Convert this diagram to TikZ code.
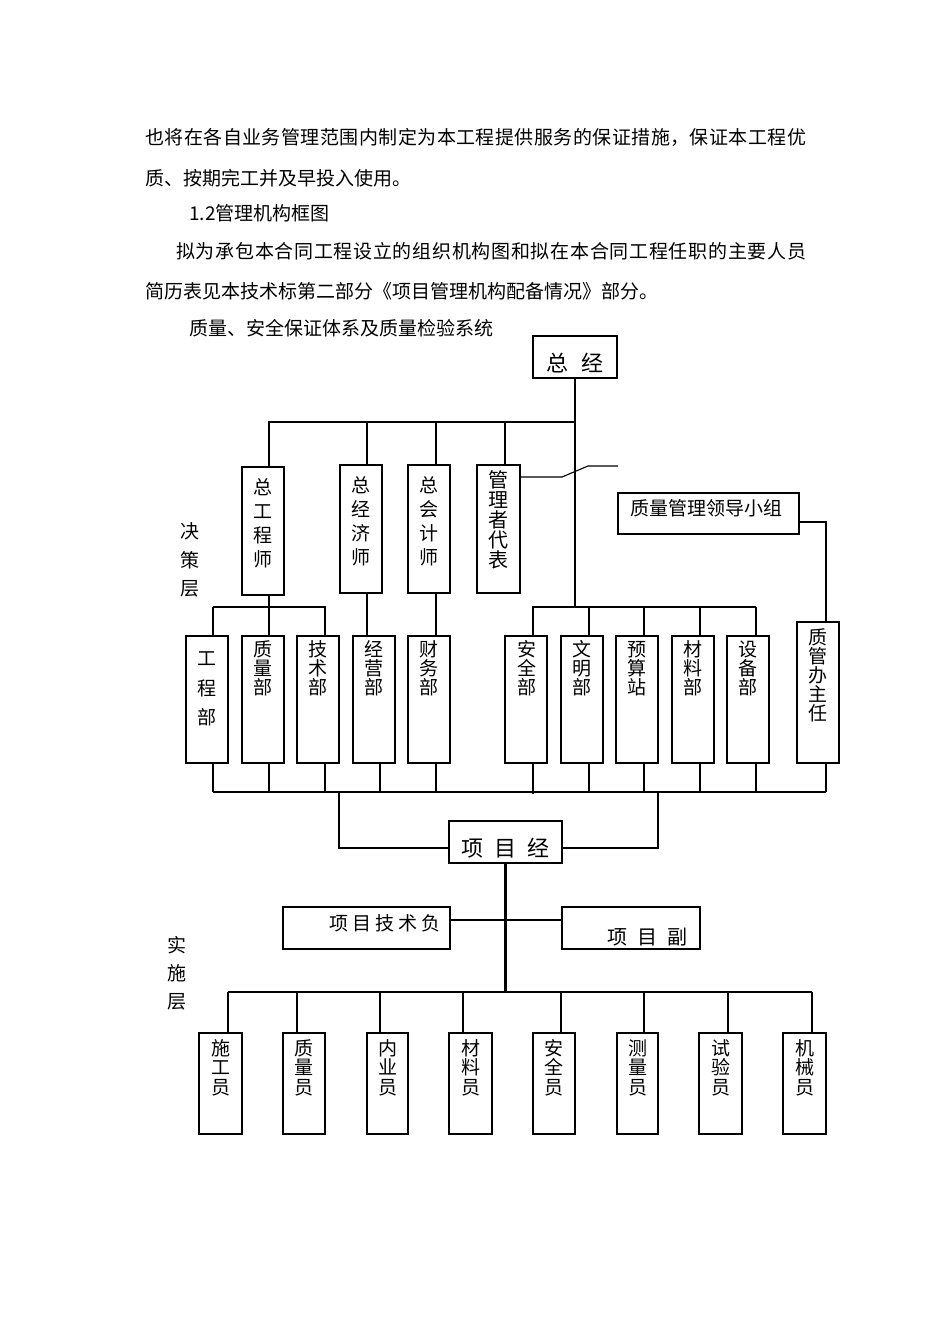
\documentclass[tikz,border=0pt]{standalone}
\usepackage{fontspec}
\setmainfont{Noto Sans CJK SC}
\begin{document}
\begin{tikzpicture}[x=1pt,y=-1pt,
  bx/.style={draw, line width=1.1pt, inner sep=0pt, outer sep=0pt, anchor=north west},
  ln/.style={line width=1.1pt},
  tk/.style={line width=2.3pt},
  tx/.style={inner sep=0pt, font=\fontsize{#1}{#1}\selectfont},
  vt/.style 2 args={inner sep=0pt, align=center, font=\fontsize{#1}{#2}\selectfont},
]
\fill[white] (0,0) rectangle (950,1344);
\useasboundingbox (0,0) rectangle (950,1344);

% ---------- paragraph text ----------
\node[tx=19, anchor=west] (p1) at (145,137) {\spaceskip=0pt plus 1fil\makebox[661pt][s]{也 将 在 各 自 业 务 管 理 范 围 内 制 定 为 本 工 程 提 供 服 务 的 保 证 措 施 ， 保 证 本 工 程 优}};
\node[tx=19, anchor=west] (p2) at (145,178) {质、按期完工并及早投入使用。};
\node[tx=19, anchor=west] (p3) at (189,213) {1.2管理机构框图};
\node[tx=19, anchor=west] (p4) at (176,251) {\spaceskip=0pt plus 1fil\makebox[630pt][s]{拟 为 承 包 本 合 同 工 程 设 立 的 组 织 机 构 图 和 拟 在 本 合 同 工 程 任 职 的 主 要 人 员}};
\node[tx=19, anchor=west] (p5) at (145,291) {简历表见本技术标第二部分《项目管理机构配备情况》部分。};
\node[tx=19, anchor=west] (p6) at (189,328) {质量、安全保证体系及质量检验系统};

% ---------- layer labels ----------
\node[vt={19}{28.5}] (lab1) at (190,560) {决\\策\\层};
\node[vt={19}{28}] (lab2) at (177,973) {实\\施\\层};

% ---------- top box ----------
\node[bx, minimum width=84pt, minimum height=42pt] (zj) at (533,336) {};
\node[tx=22] (zjt) at (575,363) {总\hspace{14pt}经};

% ---------- row 1 ----------
\node[bx, minimum width=42pt, minimum height=128pt] (zgcs) at (242,467) {};
\node[bx, minimum width=42pt, minimum height=128pt] (zjjs) at (340,465) {};
\node[bx, minimum width=42pt, minimum height=128pt] (zkjs) at (408,465) {};
\node[bx, minimum width=43pt, minimum height=128pt] (glzdb) at (477,465) {};
\node[vt={19}{24}] (t-zgcs) at (263,523) {总\\工\\程\\师};
\node[vt={19}{24}] (t-zjjs) at (361,521) {总\\经\\济\\师};
\node[vt={19}{24}] (t-zkjs) at (429,521) {总\\会\\计\\师};
\node[vt={20}{20}] (t-glzdb) at (498.5,520) {管\\理\\者\\代\\表};
\draw[tk] (glzdb.north west) -- (glzdb.south west);

\node[bx, minimum width=181pt, minimum height=41pt] (zlgl) at (618,493) {};
\node[tx=19] (t-zlgl) at (706,508) {质量管理领导小组};

% ---------- row 2 ----------
\foreach \n/\x in {gcb/186,zlb/242,jsb/297,jyb/353,cwb/408,aqb/505,wmb/561,ysz/616,clb/672,sbb/727}
  \node[bx, minimum width=42pt, minimum height=127pt] (\n) at (\x,636) {};
\node[bx, minimum width=42pt, minimum height=141pt] (zgbzr) at (797,622) {};
\draw[tk] (gcb.north east) -- (gcb.south east);
\draw[tk] (aqb.north west) -- (aqb.south west);
\draw[tk] (sbb.north east) -- (sbb.south east);

\node[vt={19}{29.5}] (t-gcb) at (207,689) {工\\程\\部};
\node[vt={19}{19}] (t-zlb) at (263,668.5) {质\\量\\部};
\node[vt={19}{19}] (t-jsb) at (318,668.5) {技\\术\\部};
\node[vt={19}{19}] (t-jyb) at (374,668.5) {经\\营\\部};
\node[vt={19}{19}] (t-cwb) at (429,668.5) {财\\务\\部};
\node[vt={19}{19}] (t-aqb) at (527,668.5) {安\\全\\部};
\node[vt={19}{19}] (t-wmb) at (582,668.5) {文\\明\\部};
\node[vt={19}{19}] (t-ysz) at (637,668.5) {预\\算\\站};
\node[vt={19}{19}] (t-clb) at (693,668.5) {材\\料\\部};
\node[vt={19}{19}] (t-sbb) at (748,668.5) {设\\备\\部};
\node[vt={19}{19}] (t-zgbzr) at (818,675) {质\\管\\办\\主\\任};

% ---------- project manager & deputies ----------
\node[bx, minimum width=113pt, minimum height=42pt] (xmj) at (449,821) {};
\node[tx=22] (t-xmj) at (505.5,848) {项\hspace{11pt}目\hspace{11pt}经};
\node[bx, minimum width=167pt, minimum height=42pt] (xmjs) at (283,907) {};
\node[tx=19] (t-xmjs) at (385,923) {项\kern4pt 目\kern4pt 技\kern4pt 术\kern4pt 负};
\node[bx, minimum width=138pt, minimum height=42pt] (xmf) at (562,907) {};
\node[tx=20] (t-xmf) at (647,937) {项\hspace{10pt}目\hspace{10pt}副};

% ---------- row 3 ----------
\foreach \n/\x/\w/\lab in {sgy/199/43/施\\工\\员, zly/283/42/质\\量\\员, nyy/367/41/内\\业\\员, cly/449/43/材\\料\\员, aqy/533/42/安\\全\\员, cly2/617/41/测\\量\\员, syy/699/43/试\\验\\员, jxy/783/43/机\\械\\员}{
  \node[bx, minimum width=\w pt, minimum height=101pt] (\n) at (\x,1033) {};
  \node[vt={19}{19.5}] (t-\n) at (\n.center |- 0,1067.5) {\lab};
}
\draw[tk] (sgy.north west) -- (sgy.south west);
\draw[tk] (jxy.north west) -- (jxy.south west);

% ---------- helper levels ----------
\coordinate (y1) at (0,422);
\coordinate (y2) at (0,607);
\coordinate (y3) at (0,792);
\coordinate (y5) at (0,992);

% ---------- connectors: top ----------
\draw[ln] (zj.south) -- (zj.south |- y2);
\draw[tk] ([xshift=6pt]zgcs.north) |- (zj.south |- y1);
\draw[ln] ([xshift=6pt]zjjs.north) -- ([xshift=6pt]zjjs.north |- y1);
\draw[ln] ([xshift=7pt]zkjs.north) -- ([xshift=7pt]zkjs.north |- y1);
\draw[tk] ([xshift=6.5pt]glzdb.north) -- ([xshift=6.5pt]glzdb.north |- y1);

% broken cross-over line from 管理者代表
\coordinate (sw1) at (562,477);
\coordinate (sw2) at (588,466);
\coordinate (sw3) at (618,466);
\draw[ln] (glzdb.east |- sw1) -- (sw1) -- (sw2) -- (sw3);

% 质量管理领导小组 -> 质管办主任
\coordinate (q1) at (826,522);
\draw[ln] (zlgl.east |- q1) -| ([xshift=8pt]zgbzr.north);

% ---------- connectors: row 2 top ----------
\draw[tk] ([xshift=6pt]gcb.north) -- ([xshift=6pt]gcb.north |- y2);
\draw[ln] ([xshift=6pt]gcb.north |- y2) -- ([xshift=7pt]jsb.north |- y2) -- ([xshift=7pt]jsb.north);
\draw[ln] ([xshift=6pt]zgcs.south) -- ([xshift=6pt]zlb.north);
\draw[ln] ([xshift=6pt]zjjs.south) -- ([xshift=6pt]zjjs.south |- jyb.north);
\draw[ln] ([xshift=7pt]zkjs.south) -- ([xshift=7pt]zkjs.south |- cwb.north);

\draw[ln] ([xshift=7pt]aqb.north) -- ([xshift=7pt]aqb.north |- y2) -- ([xshift=8pt]sbb.north |- y2);
\foreach \n in {wmb,ysz,clb}
  \draw[ln] ([xshift=7pt]\n.north) -- ([xshift=7pt]\n.north |- y2);
\draw[tk] ([xshift=8pt]sbb.north) -- ([xshift=8pt]sbb.north |- y2);

% ---------- connectors: row 2 bottom ----------
\draw[ln] ([xshift=6pt]gcb.south |- y3) -- ([xshift=8pt]zgbzr.south |- y3);
\draw[tk] ([xshift=6pt]gcb.south) -- ([xshift=6pt]gcb.south |- y3);
\foreach \n/\s in {zlb/6,jsb/7,jyb/6,cwb/7,wmb/7,ysz/7,clb/7,zgbzr/8}
  \draw[ln] ([xshift=\s pt]\n.south) -- ([xshift=\s pt]\n.south |- y3);
\draw[ln] ([xshift=7pt]aqb.south) -- ([xshift=7pt,yshift=-2pt]aqb.south |- y3);
\draw[tk] ([xshift=8pt]sbb.south) -- ([xshift=8pt]sbb.south |- y3);

% ---------- connectors: to 项目经 ----------
\coordinate (pl) at (339,792);
\coordinate (pr) at (658,792);
\draw[ln] (pl) |- ([yshift=-6pt]xmj.west);
\draw[ln] (pr) |- ([yshift=-6pt]xmj.east);
\draw[tk] (xmj.south) -- (xmj.south |- y5);
\draw[ln] ([yshift=8pt]xmjs.east) -- ([yshift=8pt]xmf.west);

% ---------- connectors: row 3 ----------
\draw[ln] ([xshift=7.5pt]sgy.north |- y5) -- ([xshift=7.5pt]jxy.north |- y5);
\draw[tk] ([xshift=7.5pt]sgy.north) -- ([xshift=7.5pt]sgy.north |- y5);
\foreach \n/\s in {zly/-7,nyy/-7.5,cly/-7.5,aqy/7,cly2/6.5,syy/7.5,jxy/7.5}
  \draw[ln] ([xshift=\s pt]\n.north) -- ([xshift=\s pt]\n.north |- y5);
\end{tikzpicture}
\end{document}
